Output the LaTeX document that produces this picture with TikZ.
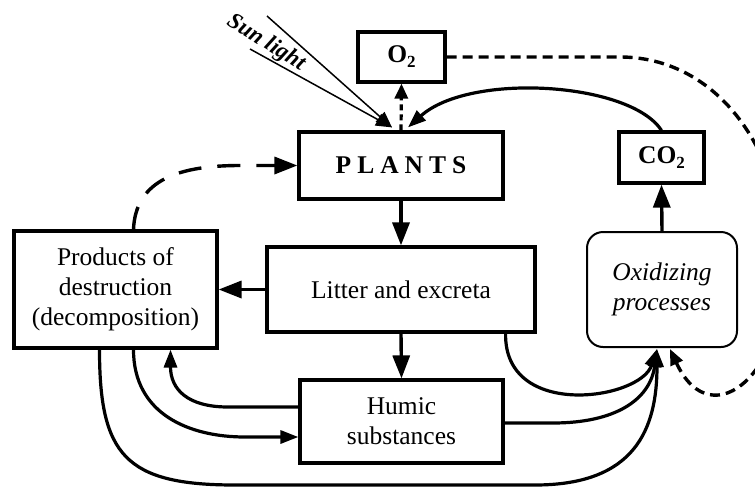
\documentclass[tikz,border=0pt]{standalone}
\usepackage{fontspec}
\setmainfont{Liberation Serif}
\usetikzlibrary{arrows.meta,calc}

\tikzset{
	box/.style={draw=black, line width=3.2pt, inner sep=0pt, align=center},
	link/.style={black, line width=3.4pt, -{Triangle[length=23pt,width=17pt]}},
	flow/.style={black, line width=3.2pt, -{Triangle[length=18pt,width=13pt]}},
	ray/.style={black, line width=1.5pt, -{Triangle[length=16pt,width=13pt]}},
}
\newcommand{\subtwo}{\raisebox{-5pt}{\fontsize{17}{17}\selectfont 2}}

\begin{document}
\begin{tikzpicture}[x=1pt,y=-1pt,font=\fontsize{25.5}{30}\selectfont]
		\useasboundingbox (0,0) rectangle (755,488);
		\clip (0,0) rectangle (755,488);
		% boxes
		\node [box, minimum width=204pt, minimum height=67pt] (plants) at (401,165.5) {\bfseries P\hspace{6pt}L\hspace{6pt}A\hspace{6pt}N\hspace{6pt}T\hspace{6pt}S};
		\node [box, minimum width=87pt, minimum height=50pt] (otwo) at (401.5,57) {\bfseries O\subtwo};
		\node [box, minimum width=85pt, minimum height=51pt] (cotwo) at (661.5,157.5) {\bfseries CO\subtwo};
		\node [box, minimum width=268pt, minimum height=85pt] (litter) at (401,289.5) {Litter and excreta};
		\node [box, minimum width=203pt, minimum height=117pt] (prod) at (115.5,289.5) {Products of\\destruction\\(decomposition)};
		\node [box, minimum width=203pt, minimum height=83pt] (humic) at (401.5,421.5) {Humic\\substances};
		\node [box, line width=2pt, rounded corners=16pt, minimum width=150pt, minimum height=115pt] (oxid) at (662,289.5) {\itshape Oxidizing\\\itshape processes};
		\node [rotate=-32, font=\bfseries\itshape\fontsize{23}{26}\selectfont] (sunlbl) at (266,43) {Sun light};
		% end points
		\coordinate (sun) at ($(plants.north)+(-9,-3)$);
		\coordinate (back) at ($(plants.north)+(7,-3)$);
		\coordinate (sink) at ($(oxid.south)+(-5,1)$);
		\coordinate (dsink) at ($(oxid.south)+(8,1)$);
		\coordinate (raya) at (267,16);
		\coordinate (rayb) at (250,49);
		% sun and gases
		\draw [ray] (raya) to (sun);
		\draw [ray] (rayb) to (sun);
		\draw [black, line width=3.2pt, dash pattern=on 6pt off 4pt, -{Triangle[length=15pt,width=13pt]}] (plants.north) to (otwo.south);
		\draw [flow] (cotwo.north) .. controls (630,82) and (470,72) .. (back);
		\draw [link] (oxid.north) to (cotwo.south);
		\draw [black, line width=3.4pt, dash pattern=on 10pt off 6pt, -{Triangle[length=16pt,width=13pt]}] (otwo.east) -- (620,57) .. controls (705,57) and (775,130) .. (785,250) .. controls (792,370) and (712,440) .. (dsink);
		% main chain
		\draw [link] (plants.south) to (litter.north);
		\draw [link] (litter.west) to (prod.east);
		\draw [link] (litter.south) to (humic.north);
		\draw [black, line width=3.4pt, dash pattern=on 23pt off 16pt, -{Triangle[length=23pt,width=17pt]}] ($(prod.north)+(18,0)$) .. controls +(2,-50) and +(-60,0) .. (240,165.5) -- (plants.west);
		% exchange with humic substances
		\draw [flow] ($(humic.west)+(0,-14.5)$) -- (228,407) .. controls +(-40,0) and +(0,40) .. ($(prod.south)+(55,0)$);
		\draw [flow] ($(prod.south)+(18,0)$) .. controls +(0,65) and +(-55,0) .. (245,437) -- ($(humic.west)+(0,15.5)$);
		% to oxidizing processes
		\draw [flow] ($(litter.south east)+(-31,0)$) .. controls (504,420) and (640,400) .. (sink);
		\draw [flow] ($(humic.east)+(0,1.5)$) -- (553,423) .. controls (615,423) and (650,400) .. (sink);
		\draw [flow] ($(prod.south)+(-16,0)$) .. controls +(0,105) and +(-110,0) .. (235,485) -- (535,485) .. controls +(100,0) and +(0,80) .. (sink);
\end{tikzpicture}
\end{document}
